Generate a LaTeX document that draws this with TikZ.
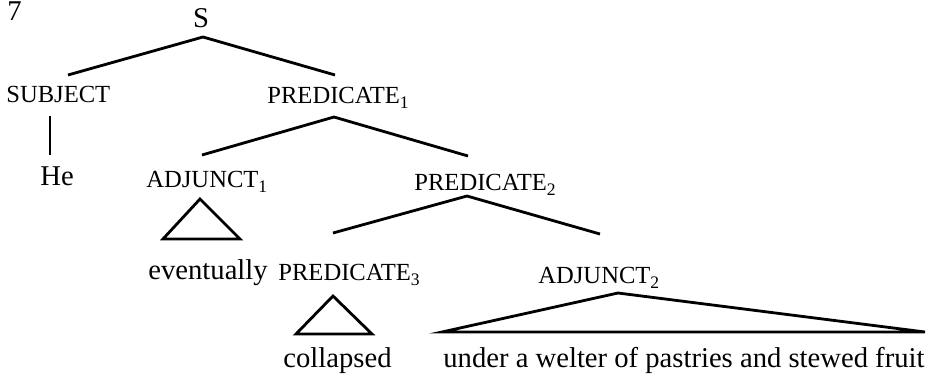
\documentclass[tikz,border=0pt]{standalone}
\usepackage{fontspec}
\setmainfont{Liberation Serif}
\usetikzlibrary{positioning}
% lowered index on a category label
\newcommand{\idx}[1]{\raisebox{-3.2pt}{\fontsize{10}{12}\selectfont #1}}

\begin{document}
\begin{tikzpicture}[x=0.02cm, y=-0.02cm, line width=1.6pt]
    % Styles for category labels and words
    \tikzset{cat/.style={inner sep=0pt, anchor=base west, font=\fontsize{14}{16}\selectfont},
             word/.style={inner sep=0pt, anchor=base west, font=\fontsize{16.3}{19}\selectfont}}
    \useasboundingbox (0,0) rectangle (931,376);

    % Category labels
    \node[word] (num) at (6,20) {7};
    \node[word, anchor=base] (s) at (201,27) {S};
    \node[cat] (subj) at (5,102) {SUBJECT};
    \node[cat] (pred1) at (266,103) {PREDICATE\idx{1}};
    \node[cat] (adj1) at (145,187) {ADJUNCT\idx{1}};
    \node[cat] (pred2) at (413,190) {PREDICATE\idx{2}};
    \node[cat] (pred3) at (277,280) {PREDICATE\idx{3}};
    \node[cat] (adj2) at (537,283) {ADJUNCT\idx{2}};

    % Words
    \node[word] (he) at (39,185) {He};
    \node[word] (eventually) at (147,279) {eventually};
    \node[word] (collapsed) at (282,367) {collapsed};
    \node[word] (under) at (442,367) {under a welter of pastries and stewed fruit};

    % Coordinates
    \coordinate (s_v) at (203,37);
    \coordinate (subj_t) at (68,75);
    \coordinate (pred1_t) at (335,75);
    \coordinate (pred1_v) at (334,117);
    \coordinate (adj1_t) at (202,155);
    \coordinate (pred2_t) at (468,156);
    \coordinate (pred2_v) at (467,196);
    \coordinate (pred3_t) at (333,233);
    \coordinate (adj2_t) at (600,234);
    \coordinate (subj_b) at (50,116);
    \coordinate (he_t) at (50,155);

    % Branches
    \draw (subj_t) -- (s_v) -- (pred1_t);
    \draw (subj_b) -- (he_t);
    \draw (adj1_t) -- (pred1_v) -- (pred2_t);
    \draw (pred3_t) -- (pred2_v) -- (adj2_t);

    % Roofs
    \draw (200,199) coordinate (roof1_v) -- (240,239) coordinate (roof1_r) -- (163,239) coordinate (roof1_l) -- cycle;
    \draw (333,296) coordinate (roof2_v) -- (372,334) coordinate (roof2_r) -- (296,334) coordinate (roof2_l) -- cycle;
    \draw (618,293) coordinate (roof3_v) -- (925,332) coordinate (roof3_r) -- (442,332) coordinate (roof3_l) -- cycle;

\end{tikzpicture}
\end{document}
